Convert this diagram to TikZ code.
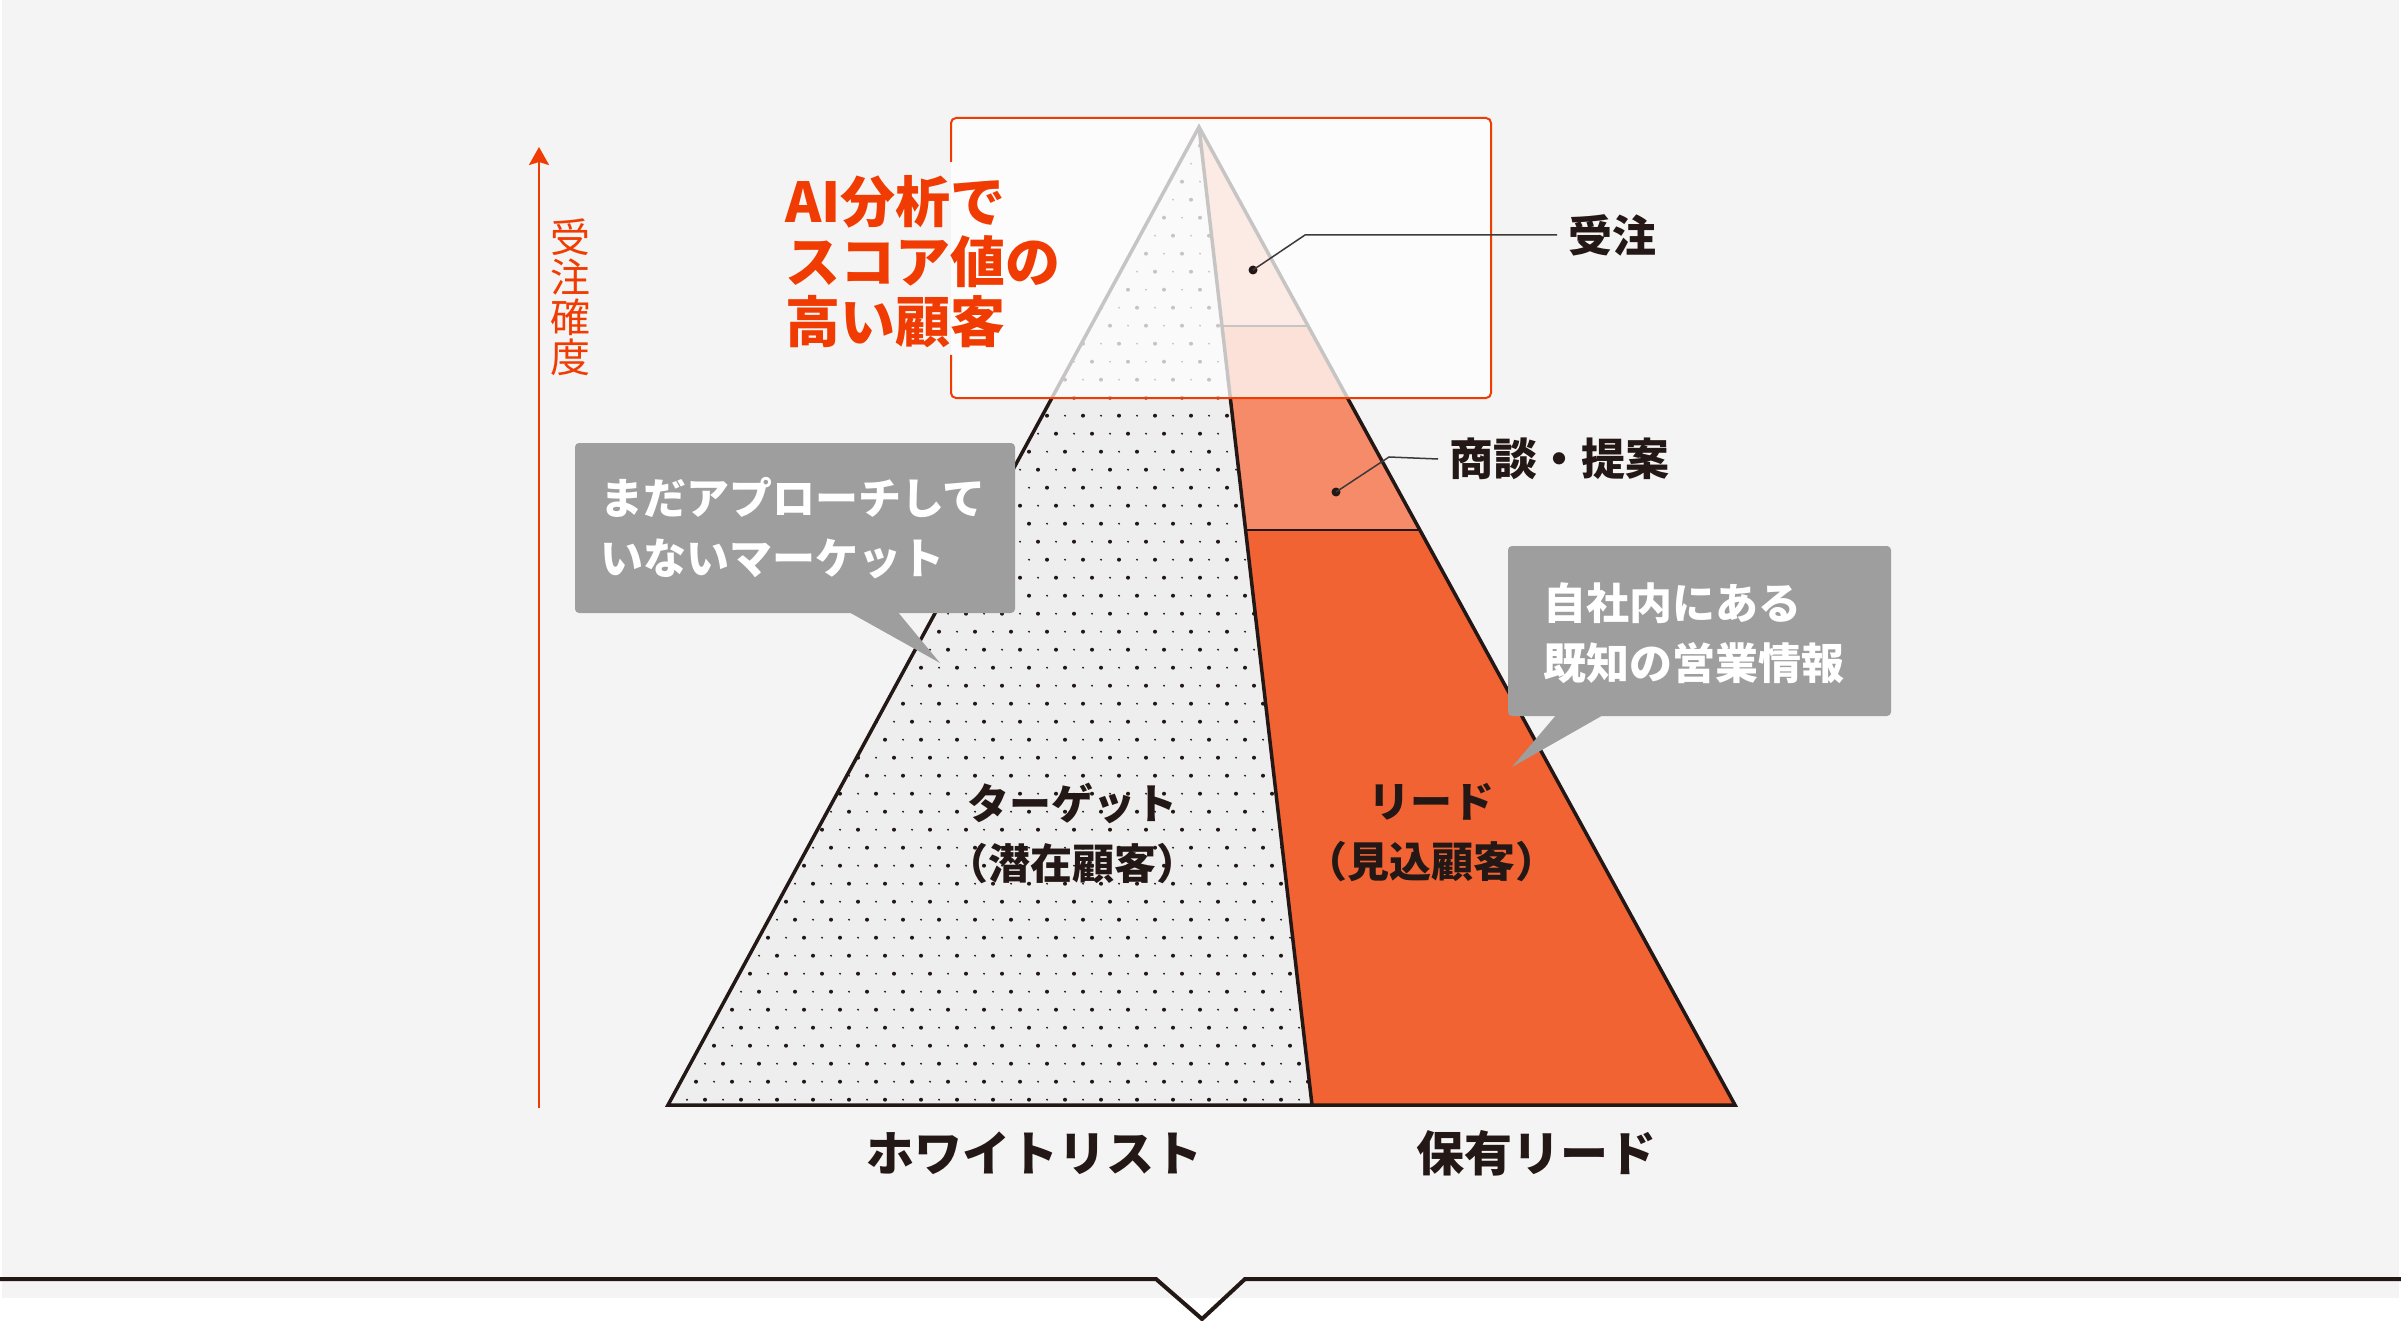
\documentclass[tikz,border=0pt]{standalone}
\usepackage{fontspec}
\newfontfamily\jp{Noto Sans CJK JP}
\usetikzlibrary{calc,arrows.meta}

\definecolor{bggray}{HTML}{F4F4F4}
\definecolor{inkblack}{HTML}{231815}
\definecolor{accent}{HTML}{F03C02}
\definecolor{leadred}{HTML}{F26334}
\definecolor{talkred}{HTML}{F58B68}
\definecolor{winred}{HTML}{F7B39B}
\definecolor{targetgray}{HTML}{EEEEEE}
\definecolor{bubblegray}{HTML}{9E9E9E}
\definecolor{leadergray}{HTML}{3E3A39}

\tikzset{
  pyredge/.style={draw=inkblack,line width=3.5pt,line join=miter},
  bandline/.style={draw=inkblack,line width=1.5pt},
  leader/.style={draw=leadergray,line width=1.5pt},
  stagedot/.style={circle,fill=inkblack,inner sep=0pt,minimum size=9pt},
  stagelabel/.style={font=\jp\bfseries\fontsize{44}{50}\selectfont,text=inkblack,anchor=west,inner xsep=11pt},
  bubble/.style={fill=bubblegray,rounded corners=4pt,inner sep=0pt},
  bubbletext/.style={font=\jp\bfseries\fontsize{43}{60}\selectfont,text=white,align=left,anchor=west,inner sep=0pt},
  zonelabel/.style={font=\jp\bfseries\fontsize{42}{60}\selectfont,text=inkblack,align=center},
  baselabel/.style={font=\jp\bfseries\fontsize{48}{50}\selectfont,text=inkblack},
  titletext/.style={font=\jp\bfseries\fontsize{55}{60}\selectfont,text=accent,align=left,anchor=west,inner sep=0pt},
  axislabel/.style={font=\jp\fontsize{40}{40}\selectfont,text=accent,align=center,inner sep=0pt}
}

\begin{document}
\begin{tikzpicture}[x=1pt,y=-1pt]
\useasboundingbox (0,0) rectangle (2401,1321);
\fill[bggray] (2,0) rectangle (2399,1298);

\coordinate (apex) at (1199,127);
\coordinate (bl) at (668,1105);
\coordinate (br) at (1735,1105);
\coordinate (bm) at (1312,1105);
\coordinate (s1l) at ($(apex)!0.412!(bm)$);
\coordinate (s1r) at ($(apex)!0.412!(br)$);
\coordinate (s2l) at ($(apex)!0.2035!(bm)$);
\coordinate (s2r) at ($(apex)!0.2035!(br)$);

\fill[targetgray] (apex) -- (bl) -- (bm) -- cycle;
\begin{scope}
\clip (apex) -- (bl) -- (bm) -- cycle;
\foreach \r in {0,...,54}{
  \pgfmathsetmacro\sh{mod(9*\r,36)}
  \foreach \m in {18,...,36}{
    \fill[inkblack] (3+\sh+36*\m,127.7+18*\r) circle (2pt);
    \fill[inkblack] (21+\sh+36*\m,127.7+18*\r) circle (1.05pt);
  }
}
\end{scope}

\fill[leadred] (s1l) -- (s1r) -- (br) -- (bm) -- cycle;
\fill[talkred] (s2l) -- (s2r) -- (s1r) -- (s1l) -- cycle;
\fill[winred] (apex) -- (s2r) -- (s2l) -- cycle;
\draw[bandline] (s1l) -- (s1r);
\draw[bandline] (s2l) -- (s2r);
\draw[pyredge] (apex) -- (bl) -- (br) -- cycle;
\draw[pyredge] (apex) -- (bm);

\fill[white,opacity=0.75,rounded corners=5pt] (951,118) rectangle (1491,398);
\draw[accent,line width=2pt,rounded corners=5pt] (951,162) -- (951,118) -- (1491,118) -- (1491,398) -- (951,398) -- (951,355);
\node[titletext] (score) at (785,262) {AI分析で\\スコア値の\\高い顧客};

\node[stagedot] (win) at (1253,270) {};
\coordinate (winknee) at (1305,235);
\node[stagelabel] (winlabel) at (1557,235) {受注};
\draw[leader] (win.center) -- (winknee) -- (winlabel.west);

\node[stagedot] (talk) at (1336,492) {};
\coordinate (talkknee) at (1389,457);
\node[stagelabel] (talklabel) at (1438,459) {商談・提案};
\draw[leader] (talk.center) -- (talkknee) -- (talklabel.west);

\node[zonelabel] (target) at (1072,833) {ターゲット\\（潜在顧客）};
\node[zonelabel] (lead) at (1431,833) {リード\\（見込顧客）};

\node[bubble,minimum width=440pt,minimum height=170pt] (market) at (795,528) {};
\fill[bubblegray] (847,611) -- (940,663) -- (897,611) -- cycle;
\node[bubbletext] (markettext) at (600,528) {まだアプローチして\\いないマーケット};

\node[bubble,minimum width=383pt,minimum height=170pt] (known) at (1699.5,631) {};
\fill[bubblegray] (1557,714) -- (1512,767) -- (1605,714) -- cycle;
\node[bubbletext] (knowntext) at (1543,633) {自社内にある\\既知の営業情報};

\coordinate (axbot) at (539,1108);
\coordinate (axtop) at (539,147);
\draw[accent,line width=2.5pt,-{Stealth[length=18pt,width=20pt,inset=3pt]}] (axbot) -- (axtop);
\node[axislabel] (axis) at (570,297) {受\\注\\確\\度};

\node[baselabel] (whitelist) at (1034,1153) {ホワイトリスト};
\node[baselabel] (owned) at (1536,1153) {保有リード};

\draw[inkblack,line width=4pt,line join=miter] (0,1279) -- (1156,1279) -- (1202,1319) -- (1245,1279) -- (2401,1279);
\end{tikzpicture}
\end{document}
